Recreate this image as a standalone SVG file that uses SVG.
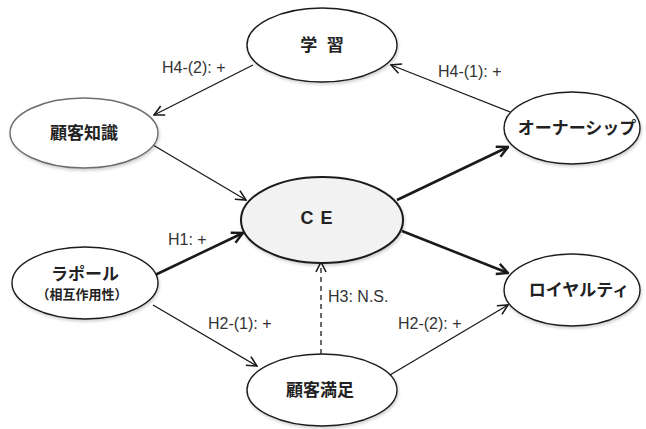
<svg xmlns="http://www.w3.org/2000/svg" width="646" height="429" viewBox="0 0 646 429">
<defs>
<filter id="sh" x="-20%" y="-20%" width="140%" height="150%">
<feDropShadow dx="1" dy="2" stdDeviation="1.5" flood-color="#000" flood-opacity="0.18"/>
</filter>
<marker id="ah" viewBox="0 0 12 12" refX="11" refY="6" markerWidth="12" markerHeight="12" markerUnits="userSpaceOnUse" orient="auto">
<path d="M1,1 L11,6 L1,11" fill="none" stroke="#1a1a1a" stroke-width="1.6" stroke-linejoin="miter"/>
</marker>
<marker id="ahb" viewBox="0 0 14 14" refX="12.5" refY="7" markerWidth="14" markerHeight="14" markerUnits="userSpaceOnUse" orient="auto">
<path d="M1.5,1.5 L12.5,7 L1.5,12.5" fill="none" stroke="#1a1a1a" stroke-width="2.4"/>
</marker>
</defs>
<style>
.n{fill:#fff;stroke:#1a1a1a;stroke-width:1.4;filter:url(#sh)}
.t{font-family:"Liberation Sans","Noto Sans CJK JP",sans-serif;font-weight:bold;font-size:17px;fill:#222;text-anchor:middle}
.l{font-family:"Liberation Sans",Arial,sans-serif;font-size:16px;fill:#333}
.c{fill:none;stroke:#1a1a1a;stroke-width:1.3}
.cb{fill:none;stroke:#1a1a1a;stroke-width:2.6}
</style>
<g id="connectors">
<line class="c" x1="510" y1="112" x2="391" y2="65" marker-end="url(#ah)"/>
<line class="c" x1="253" y1="65" x2="154" y2="115" marker-end="url(#ah)"/>
<line class="c" x1="153" y1="145" x2="246" y2="200" marker-end="url(#ah)"/>
<line class="cb" x1="155" y1="275" x2="243" y2="233" marker-end="url(#ahb)"/>
<line class="c" x1="153" y1="305" x2="257" y2="366" marker-end="url(#ah)"/>
<line class="c" x1="321" y1="354" x2="321" y2="262" stroke-dasharray="5,4" marker-end="url(#ah)"/>
<line class="c" x1="390" y1="375" x2="508" y2="305" marker-end="url(#ah)"/>
<line class="cb" x1="397" y1="200" x2="508" y2="147" marker-end="url(#ahb)"/>
<line class="cb" x1="402" y1="231" x2="508" y2="273" marker-end="url(#ahb)"/>
<text class="l" x="162" y="73">H4-(2): +</text>
<text class="l" x="438" y="77">H4-(1): +</text>
<text class="l" x="168" y="245">H1: +</text>
<text class="l" x="328" y="302">H3: N.S.</text>
<text class="l" x="208" y="329">H2-(1): +</text>
<text class="l" x="398" y="329">H2-(2): +</text>
</g>
<g id="gakushu">
<ellipse class="n" cx="322" cy="45" rx="75" ry="37"/>
<text class="t" x="322" y="51" word-spacing="5">学 習</text>
</g>
<g id="kokyaku-chishiki">
<ellipse class="n" cx="84" cy="133" rx="74" ry="35" style="stroke:#6e6e6e"/>
<text class="t" x="84" y="139">顧客知識</text>
</g>
<g id="ownership">
<ellipse class="n" cx="572" cy="128" rx="68" ry="36"/>
<text class="t" x="577" y="134">オーナーシップ</text>
</g>
<g id="ce">
<ellipse class="n" cx="322" cy="220" rx="81" ry="43" style="fill:#f2f2f2;stroke-width:2"/>
<text class="t" x="317" y="224" style="font-size:18px" letter-spacing="1">C E</text>
</g>
<g id="rapport">
<ellipse class="n" cx="85" cy="283" rx="73" ry="36"/>
<text class="t" x="85" y="280">ラポール</text>
<text class="t" x="82" y="299" style="font-size:13px">（相互作用性）</text>
</g>
<g id="loyalty">
<ellipse class="n" cx="572" cy="290" rx="68" ry="36"/>
<text class="t" x="579" y="296">ロイヤルティ</text>
</g>
<g id="kokyaku-manzoku">
<ellipse class="n" cx="322" cy="390" rx="75" ry="36"/>
<text class="t" x="320" y="396">顧客満足</text>
</g>
</svg>
